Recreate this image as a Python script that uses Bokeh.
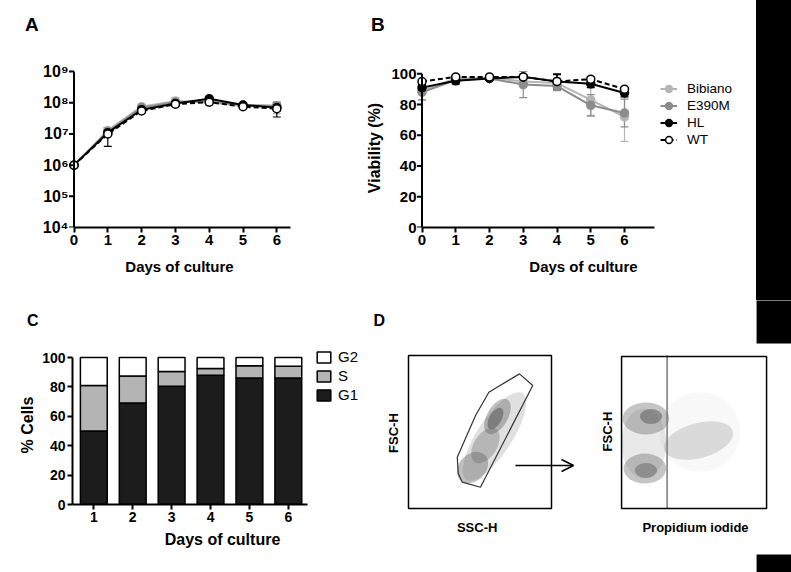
from bokeh.plotting import figure
from bokeh.layouts import row, column
from bokeh.models import (ColumnDataSource, FixedTicker, Whisker, TeeHead, Legend,
                          LegendItem, Label, Arrow, OpenHead, Range1d, Div)
from bokeh.embed import file_html
from bokeh.resources import INLINE
import math

FONT = "Liberation Sans"

# ---------------- data ----------------
days = [0, 1, 2, 3, 4, 5, 6]
series = ["Bibiano", "E390M", "HL", "WT"]

# Panel A: total cells (linear values, log axis)
cells = {
    "Bibiano": [1.0e6, 1.3e7, 7.5e7, 1.15e8, 1.05e8, 8.0e7, 7.5e7],
    "E390M":   [1.0e6, 1.2e7, 7.0e7, 1.05e8, 1.10e8, 8.5e7, 8.0e7],
    "HL":      [1.0e6, 1.1e7, 6.0e7, 9.5e7, 1.35e8, 8.5e7, 7.0e7],
    "WT":      [1.0e6, 1.0e7, 5.5e7, 9.0e7, 1.05e8, 7.5e7, 6.5e7],
}
cells_sd = {
    "Bibiano": [0, 0.30e7, 1.0e7, 0.30e8, 0.20e8, 0.10e8, 0.30e8],
    "E390M":   [0, 0.20e7, 1.0e7, 0.20e8, 0.15e8, 0.10e8, 0.25e8],
    "HL":      [0, 0.15e7, 0.5e7, 0.10e8, 0.10e8, 0.10e8, 0.15e8],
    "WT":      [0, 0.60e7, 0.8e7, 0.15e8, 0.20e8, 0.10e8, 0.30e8],
}
a_ytick_values = [1e4, 1e5, 1e6, 1e7, 1e8, 1e9]
a_ytick_labels = ["10\u2074", "10\u2075", "10\u2076", "10\u2077", "10\u2078", "10\u2079"]

# Panel B: viability (%)
viability = {
    "Bibiano": [89, 97, 97.5, 95, 94, 83, 72],
    "E390M":   [88, 96, 97, 93, 92, 79.5, 74.5],
    "HL":      [91, 95.5, 97, 98, 95, 93.5, 87.5],
    "WT":      [95, 98, 98, 98, 95, 96.5, 90],
}
viability_sd = {
    "Bibiano": [6, 2, 1, 3, 3, 10, 16],
    "E390M":   [5, 3, 1, 8.5, 3, 7, 9],
    "HL":      [2, 2, 1, 1, 4.5, 2.5, 2.5],
    "WT":      [1, 1, 1, 1, 5, 1.5, 1],
}
b_yticks = [0, 20, 40, 60, 80, 100]

# Panel C: cell cycle (%)
bar_days = [1, 2, 3, 4, 5, 6]
g1 = [50, 69, 80.5, 88, 86, 86]
s_phase = [31, 18.5, 10, 4.5, 8.5, 8]
g2 = [19, 12.5, 9.5, 7.5, 5.5, 6]
phases = ["G1", "S", "G2"]

# Panel D: flow cytometry populations (channel units 0-1000)
left_pop_x = [601, 538, 448, 622, 608]
left_pop_y = [471, 412, 268, 601, 588]
left_pop_w = [720, 275, 245, 275, 165]
left_pop_h = [230, 150, 175, 135, 80]
left_pop_angle = [57, 58, 45, 60, 60]
left_pop_density = [0.2, 0.35, 0.42, 0.42, 0.65]
gate_x = [776, 869, 503, 376, 348, 341, 469, 562]
gate_y = [880, 804, 139, 172, 229, 335, 608, 760]

right_pop_x = [540, 531, 154, 161, 168, 168, 203]
right_pop_y = [500, 444, 425, 261, 588, 248, 601]
right_pop_w = [560, 490, 308, 294, 322, 154, 154]
right_pop_h = [520, 229, 458, 196, 209, 98, 98]
right_pop_angle = [0, 15, 0, 0, 0, 0, 0]
right_pop_density = [0.045, 0.2, 0.14, 0.38, 0.38, 0.5, 0.6]
pi_gate = 314

# ---------------- styles ----------------
line_col = {"Bibiano": "#b5b5b5", "E390M": "#8c8c8c", "HL": "#000000", "WT": "#000000"}
fill_col = {"Bibiano": "#b5b5b5", "E390M": "#8c8c8c", "HL": "#000000", "WT": "#ffffff"}
dash = {"Bibiano": "solid", "E390M": "solid", "HL": "solid", "WT": "5 3"}
TICK_LEN = 0.148  # length of drawn y ticks, in day units (5 px)


def style_axis(ax, tick_size, label_size):
    ax.axis_line_width = 2
    ax.axis_line_color = "black"
    ax.major_tick_line_width = 2
    ax.major_tick_line_color = "black"
    ax.major_tick_in = 0
    ax.major_tick_out = 5
    ax.minor_tick_line_color = None
    ax.major_label_text_font = FONT
    ax.major_label_text_font_style = "bold"
    ax.major_label_text_font_size = f"{tick_size}px"
    ax.major_label_text_color = "black"
    ax.axis_label_text_font = FONT
    ax.axis_label_text_font_style = "bold"
    ax.axis_label_text_font_size = f"{label_size}px"
    ax.axis_label_text_color = "black"
    ax.major_label_standoff = 2


def base_fig(**kw):
    p = figure(output_backend="svg", toolbar_location=None, **kw)
    p.outline_line_color = None
    p.grid.grid_line_color = None
    p.background_fill_color = "white"
    p.border_fill_color = "white"
    return p


def letter_div(text, width, height, left, top, size):
    html = (f'<div style="margin-left:{left}px;margin-top:{top}px;'
            f'font-family:\'{FONT}\';font-weight:bold;font-size:{size}px;'
            f'line-height:{size}px;color:black;">{text}</div>')
    return Div(text=html, width=width, height=height, margin=0)


def draw_y_axis_line(p, ticks, y0, y1):
    # y axis drawn at day 0 (labels come from the figure's left axis)
    p.segment(x0=[0], y0=[y0], x1=[0], y1=[y1], line_color="black", line_width=2)
    p.segment(x0=[-TICK_LEN] * len(ticks), y0=ticks, x1=[0] * len(ticks), y1=ticks,
              line_color="black", line_width=2)
    ax = p.yaxis[0]
    ax.axis_line_color = None
    ax.major_tick_line_color = None
    ax.major_tick_out = 0
    ax.major_label_standoff = 0


def draw_series(p, ys, sds):
    rends = {}
    srcs = {}
    for name in series:
        y = ys[name]
        sd = sds[name]
        srcs[name] = ColumnDataSource(dict(
            x=days, y=y,
            lo=[a - b for a, b in zip(y, sd)],
            hi=[a + b for a, b in zip(y, sd)]))
        c = line_col[name]
        w = Whisker(base="x", lower="lo", upper="hi", source=srcs[name],
                    line_color=c, line_width=1.2, level="underlay",
                    upper_head=TeeHead(size=8, line_color=c, line_width=1.2),
                    lower_head=TeeHead(size=8, line_color=c, line_width=1.2))
        p.add_layout(w)
    for name in series:
        lr = p.line("x", "y", source=srcs[name], line_color=line_col[name],
                    line_width=2, line_dash=dash[name])
        sr = p.scatter("x", "y", source=srcs[name], size=8, marker="circle",
                       fill_color=fill_col[name], line_color=line_col[name],
                       line_width=1.5)
        rends[name] = [lr, sr]
    return rends

# ---------------- Panel A ----------------
pA = base_fig(width=355, height=260,
              x_range=Range1d(-0.163, 6.405),
              y_range=Range1d(1e4, 10 ** 9.1), y_axis_type="log",
              min_border_left=68, min_border_right=65,
              min_border_top=28, min_border_bottom=73)
draw_series(pA, cells, cells_sd)
pA.xaxis.ticker = FixedTicker(ticks=days)
pA.xaxis.bounds = (0, 6.405)
pA.xaxis.axis_label = "Days of culture"
pA.yaxis.ticker = FixedTicker(ticks=a_ytick_values)
pA.yaxis.major_label_overrides = dict(zip(a_ytick_values, a_ytick_labels))
for ax in pA.xaxis + pA.yaxis:
    style_axis(ax, 15, 15)
pA.yaxis.major_label_text_font_size = "16px"
pA.xaxis.axis_label_standoff = 10
draw_y_axis_line(pA, a_ytick_values, a_ytick_values[0], a_ytick_values[-1])

# ---------------- Panel B ----------------
pB = base_fig(width=401, height=260,
              x_range=Range1d(-0.163, 9.733), y_range=Range1d(0, 103.45),
              min_border_left=61, min_border_right=6,
              min_border_top=28, min_border_bottom=73)
rB = draw_series(pB, viability, viability_sd)
pB.xaxis.ticker = FixedTicker(ticks=days)
pB.xaxis.bounds = (0, 6.9)
pB.xaxis.axis_label = "Days of culture"
pB.yaxis.ticker = FixedTicker(ticks=b_yticks)
pB.yaxis.axis_label = "Viability (%)"
for ax in pB.xaxis + pB.yaxis:
    style_axis(ax, 15, 15)
pB.yaxis.axis_label_text_font_size = "16px"
pB.xaxis.axis_label_standoff = 10
pB.yaxis.axis_label_standoff = 5
draw_y_axis_line(pB, b_yticks, b_yticks[0], b_yticks[-1])
legB = Legend(items=[LegendItem(label=n, renderers=rB[n]) for n in series],
              location=(244, 79), glyph_width=17, glyph_height=17,
              label_height=17, spacing=0, padding=0, margin=0,
              label_standoff=10, border_line_color=None,
              background_fill_alpha=0, label_text_font=FONT,
              label_text_font_size="13.5px", label_text_color="black")
pB.add_layout(legB)

# black bar at right of the top row
bar = Div(width=35, height=300, margin=0, styles={"background-color": "black"})

# ---------------- Panel C ----------------
pC = base_fig(width=372, height=237,
              x_range=Range1d(0.452, 8.164), y_range=Range1d(0, 108.2),
              min_border_left=72, min_border_right=0,
              min_border_top=10, min_border_bottom=68)
srcC = ColumnDataSource(dict(day=bar_days, G1=g1, S=s_phase, G2=g2))
rC = pC.vbar_stack(phases, x="day", width=0.69, source=srcC,
                   fill_color=["#1c1c1c", "#b4b4b4", "#ffffff"],
                   line_color="black", line_width=1.5)
pC.xaxis.ticker = FixedTicker(ticks=bar_days)
pC.xaxis.bounds = (0.452, 6.5)
pC.xaxis.axis_label = "Days of culture"
pC.yaxis.ticker = FixedTicker(ticks=b_yticks)
pC.yaxis.bounds = (0, 100)
pC.yaxis.axis_label = "% Cells"
for ax in pC.xaxis + pC.yaxis:
    style_axis(ax, 14, 16)
pC.xaxis.axis_label_standoff = 6
pC.yaxis.axis_label_standoff = 3
legC = Legend(items=[LegendItem(label="G2", renderers=[rC[2]]),
                     LegendItem(label="S", renderers=[rC[1]]),
                     LegendItem(label="G1", renderers=[rC[0]])],
              location=(243, 101), glyph_width=17, glyph_height=14,
              label_height=14, spacing=2, padding=0, margin=0,
              label_standoff=6, border_line_color=None,
              background_fill_alpha=0, label_text_font=FONT,
              label_text_font_size="15px", label_text_color="black")
pC.add_layout(legC)

# ---------------- Panel D ----------------
RIGHT_X0 = 1490
RIGHT_SX = 1.014
pD = figure(width=419, height=272, output_backend="svg", toolbar_location=None,
            x_range=Range1d(-251.7, 2678.3), y_range=Range1d(-418.3, 1359.5),
            x_axis_location=None, y_axis_location=None, min_border=0)
pD.outline_line_color = None
pD.grid.grid_line_color = None

srcL = ColumnDataSource(dict(x=left_pop_x, y=left_pop_y, w=left_pop_w, h=left_pop_h,
                             a=[math.radians(v) for v in left_pop_angle],
                             alpha=left_pop_density))
pD.ellipse("x", "y", width="w", height="h", angle="a", source=srcL,
           fill_color="#666666", fill_alpha="alpha", line_color=None)
srcR = ColumnDataSource(dict(x=[RIGHT_X0 + v * RIGHT_SX for v in right_pop_x],
                             y=right_pop_y,
                             w=[v * RIGHT_SX for v in right_pop_w], h=right_pop_h,
                             a=[math.radians(v) for v in right_pop_angle],
                             alpha=right_pop_density))
pD.ellipse("x", "y", width="w", height="h", angle="a", source=srcR,
           fill_color="#666666", fill_alpha="alpha", line_color=None)
pD.patch(gate_x, gate_y, fill_color=None, line_color="#333333", line_width=1.2)
pD.segment(x0=[RIGHT_X0 + pi_gate * RIGHT_SX], y0=[0],
           x1=[RIGHT_X0 + pi_gate * RIGHT_SX], y1=[1000],
           line_color="#7a7a7a", line_width=1.5)
pD.quad(left=[0, RIGHT_X0], right=[1000, RIGHT_X0 + 1000 * RIGHT_SX],
        bottom=[0, 0], top=[1000, 994], fill_color=None,
        line_color="black", line_width=1.5)
# black blocks at the right edge of the figure
pD.quad(left=[2434, 2434], right=[3000, 3000], bottom=[1078, -600],
        top=[2000, -301], fill_color="black", line_color=None)
pD.add_layout(Arrow(x_start=748, y_start=281, x_end=1154, y_end=281,
                    line_width=1.5, line_color="black",
                    end=OpenHead(size=12, line_width=1.5, line_color="black")))
for txt, x, y, ang in [("FSC-H", -105, 493, math.pi / 2),
                       ("FSC-H", 1392, 503, math.pi / 2),
                       ("SSC-H", 480, -127, 0),
                       ("Propidium iodide", 2007, -127, 0)]:
    pD.add_layout(Label(x=x, y=y, text=txt, angle=ang, text_align="center",
                        text_baseline="middle", text_font=FONT,
                        text_font_style="bold", text_font_size="13px",
                        text_color="black"))
pD.add_layout(Label(x=-245, y=1229, text="D", text_font=FONT,
                    text_font_style="bold", text_font_size="16px",
                    text_color="black", text_baseline="alphabetic"))

# panel letters
divA = letter_div("A", 355, 40, 25, 15, 19)
divB = letter_div("B", 401, 40, 16, 15, 19)
divC = letter_div("C", 372, 35, 27, 13, 16)

layout = column(row(column(divA, pA), column(divB, pB), bar),
                row(column(divC, pC), column(pD)))
open("out.html", "w").write(file_html(layout, INLINE))
